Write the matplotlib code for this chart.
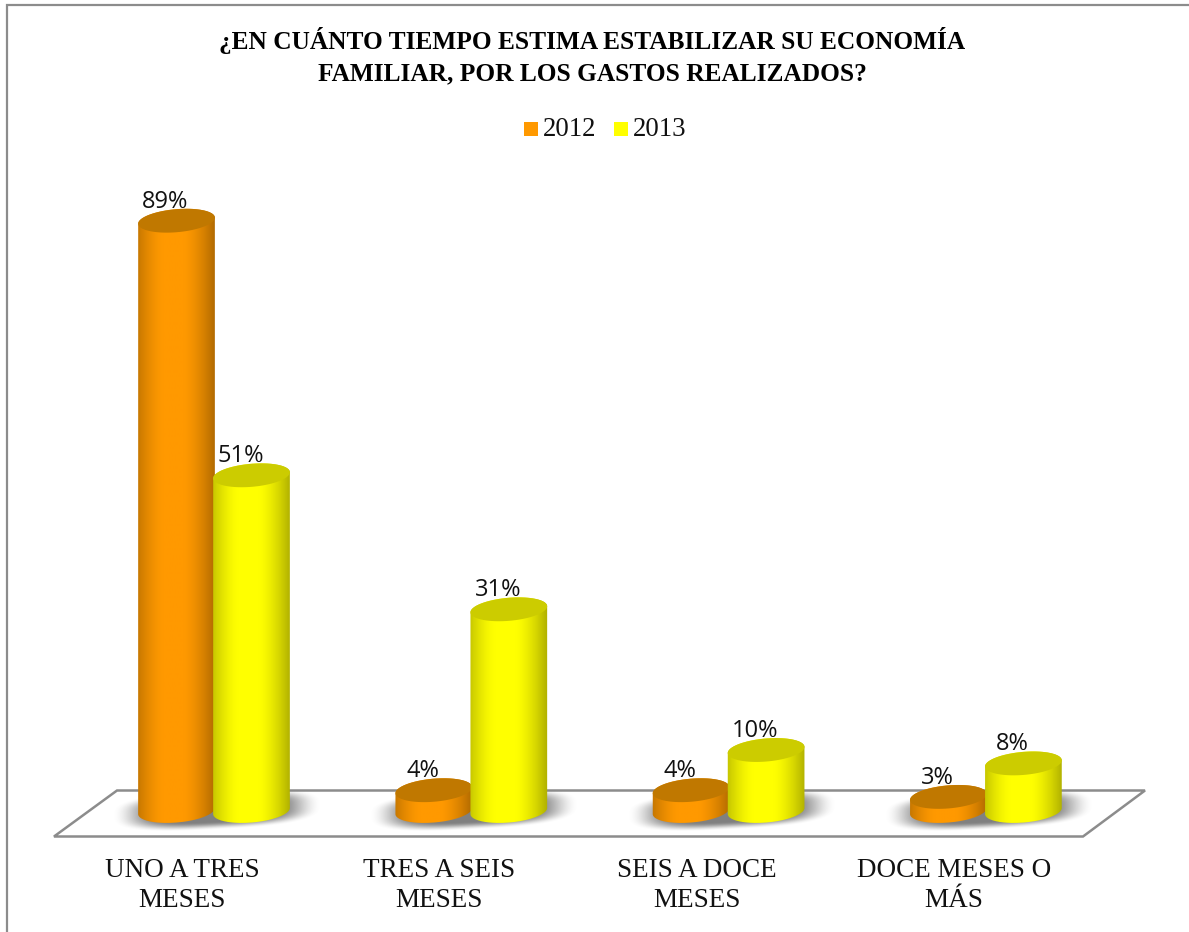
import numpy as np
import matplotlib
matplotlib.use('Agg')
import matplotlib.pyplot as plt
from matplotlib.patches import Polygon, Rectangle, PathPatch
from matplotlib.path import Path

W, H = 1189, 932
title = '¿EN CUÁNTO TIEMPO ESTIMA ESTABILIZAR SU ECONOMÍA\nFAMILIAR, POR LOS GASTOS REALIZADOS?'
categories = ['UNO A TRES\nMESES', 'TRES A SEIS\nMESES', 'SEIS A DOCE\nMESES', 'DOCE MESES O\nMÁS']
years = ['2012', '2013']
v2012 = [89, 4, 4, 3]
v2013 = [51, 31, 10, 8]

# pixel layout of the picture
x0_px, step_px = 214.0, 257.3
base_px, unit_px = 817.0, 6.7
bar_off, rx, ry = 37.5, 38.5, 11.5
tilt = np.radians(5)

fig = plt.figure(figsize=(W / 100, H / 100), dpi=100, facecolor='white')
ax = fig.add_axes([0, 0, 1, 1])
ax.set_xlim(-x0_px / step_px, (W - x0_px) / step_px)
ax.set_ylim(-(H - base_px) / unit_px, base_px / unit_px)
ax.axis('off')

def px(x, y):
    return (np.asarray(x) - x0_px) / step_px, (base_px - np.asarray(y)) / unit_px

def ellipse_pts(cx, cy, a, b, t0=0, t1=2 * np.pi):
    t = np.linspace(t0, t1, 80)
    ex = a * np.cos(t)
    ey = b * np.sin(t)
    return cx + ex * np.cos(tilt) + ey * np.sin(tilt), cy - ex * np.sin(tilt) + ey * np.cos(tilt)

def shadow(cx, cy):
    xs = np.linspace(cx - 115, cx + 115, 230)
    ys = np.linspace(cy - 32, cy + 32, 64)
    X, Y = np.meshgrid(xs, ys)
    # soft blob, leaning with the cylinders
    dy = (Y - cy) + (X - cx) * np.tan(tilt) * 0.6
    d = ((np.abs(X - cx) / 105) ** 3 + (np.abs(dy) / 20) ** 3) ** (1 / 3)
    t = np.clip((1.0 - d) / 0.42, 0, 1)
    img = np.zeros(X.shape + (4,))
    img[..., :3] = 0.45
    img[..., 3] = t * t * (3 - 2 * t) * 0.9
    l, b = px(cx - 115, cy + 32)
    r, tp = px(cx + 115, cy - 32)
    ax.imshow(img, extent=(l, r, b, tp), aspect='auto', origin='upper', zorder=2, interpolation='bilinear')

def cylinder(cat, off, value, rgb, top_col):
    cx = x0_px + cat * step_px + off
    base_y = base_px - 6
    top_y = base_px - value * unit_px
    bx, by = ellipse_pts(cx, base_y, rx, ry, 0, np.pi)
    tx, ty = ellipse_pts(cx, top_y, rx, ry, np.pi, 2 * np.pi)
    xs, ys = px(np.r_[bx, tx], np.r_[by, ty])
    # horizontal shading, dark at the edges
    u = np.linspace(-1, 1, 160)
    d = np.abs(u + 0.08)
    shade = 1 - 0.3 * np.clip((d - 0.25) / 0.8, 0, 1) ** 1.5
    img = np.outer(shade, rgb).reshape(1, 160, 3)
    l, _ = px(cx - rx - 1, 0)
    r, _ = px(cx + rx + 1, 0)
    im = ax.imshow(img, extent=(l, r, ys.min(), ys.max()), aspect='auto', zorder=3 + off / 100, interpolation='bilinear')
    verts = np.c_[xs, ys]
    clip = PathPatch(Path(np.r_[verts, verts[:1]]), transform=ax.transData, fc='none', ec='none')
    ax.add_patch(clip)
    im.set_clip_path(clip)
    ex, ey = ellipse_pts(cx, top_y, rx, ry)
    ex, ey = px(ex, ey)
    ax.add_patch(Polygon(np.c_[ex, ey], closed=True, fc=top_col, ec='none', zorder=3.01 + off / 100))

floor_x = [54, 1083, 1145, 117]
floor_y = [836.5, 836.5, 790.5, 790.5]
fx, fy = px(floor_x, floor_y)
ax.add_patch(Polygon(np.c_[fx, fy], closed=True, fc='white', ec='#8c8c8c', lw=1.8, zorder=1))

for i in range(len(categories)):
    shadow(x0_px + i * step_px + 3, 810)

for i in range(len(categories)):
    cylinder(i, -bar_off, v2012[i], (1.0, 0.6, 0.0), '#c07800')
    cylinder(i, bar_off, v2013[i], (1.0, 1.0, 0.0), '#cccc00')
    for off, v in ((-bar_off, v2012[i]), (bar_off, v2013[i])):
        lx, ly = px(x0_px + i * step_px + off - 11, base_px - v * unit_px - 19)
        ax.text(lx, ly, f'{v}%', ha='center', va='center', fontsize=17, family='Open Sans', color='#111111', zorder=6)
    lx, ly = px(x0_px + i * step_px - 32, 885.5)
    ax.text(lx, ly, categories[i], ha='center', va='center', fontsize=19.5, family='Liberation Serif',
            color='#111111', linespacing=1.3, zorder=6)

tx, ty = px(592, 56)
ax.text(tx, ty, title, ha='center', va='center', fontsize=18.3, fontweight='bold', family='Liberation Serif',
        color='black', linespacing=1.46, zorder=6)

for xs_px, col, lab in ((524, '#ff9900', years[0]), (614, '#ffff00', years[1])):
    a, b = px(xs_px, 136)
    c, d = px(xs_px + 14, 122)
    ax.add_patch(Rectangle((a, b), c - a, d - b, fc=col, ec='none', zorder=6))
    a, b = px(xs_px + 19, 129)
    ax.text(a, b, lab, ha='left', va='center', fontsize=19.3, family='Liberation Serif', color='#111111', zorder=6)

# frame: only the top and left edges are inside the picture
bx, by = px([7, 7, W], [H, 5, 5])
ax.plot(bx, by, color='#8c8c8c', lw=1.6, solid_joinstyle='miter', zorder=7)
ax.set_xlim(-x0_px / step_px, (W - x0_px) / step_px)
ax.set_ylim(-(H - base_px) / unit_px, base_px / unit_px)

fig.savefig('out.png', dpi=100, facecolor='white')
